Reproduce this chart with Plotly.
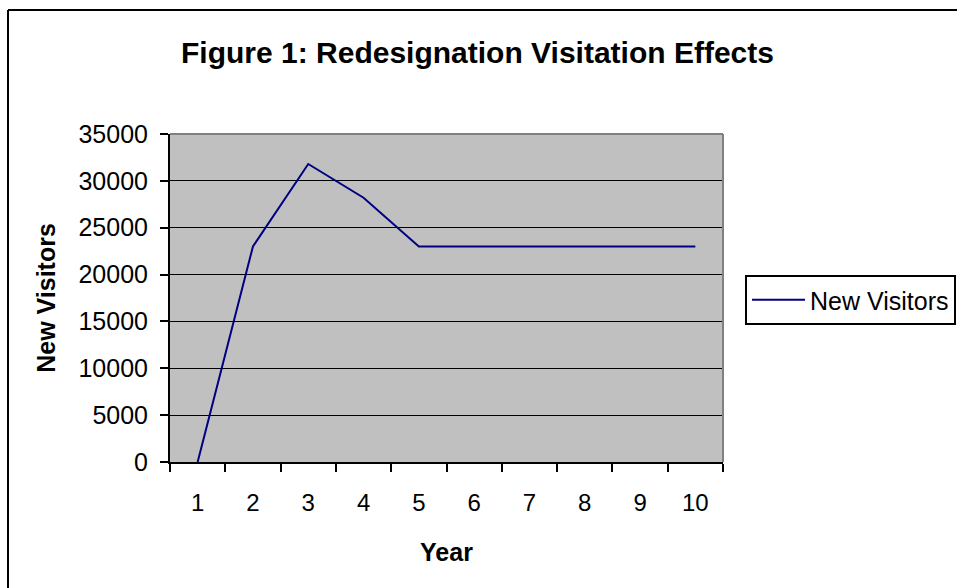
import plotly.graph_objects as go

years = ["1", "2", "3", "4", "5", "6", "7", "8", "9", "10"]
new_visitors = [0, 23000, 31800, 28200, 23000, 23000, 23000, 23000, 23000, 23000]
y_ticks = [0, 5000, 10000, 15000, 20000, 25000, 30000, 35000]

FONT = "Liberation Sans, Arial, sans-serif"
W, H = 957, 588
L, R, T, B = 170, 723, 134, 462

def px_x(p):
    return (p - L) / (R - L)

def px_y(p):
    return (B - p) / (B - T)

fig = go.Figure()
fig.add_trace(go.Scatter(
    x=years, y=new_visitors, mode="lines", name="New Visitors",
    line=dict(color="#000080", width=2),
))

fig.update_layout(
    width=W, height=H,
    margin=dict(l=L, r=W - R, t=T, b=H - B, pad=0, autoexpand=False),
    paper_bgcolor="white",
    plot_bgcolor="#C0C0C0",
    font=dict(family=FONT, color="black", size=24),
    title=dict(text="<b>Figure 1: Redesignation Visitation Effects</b>",
               x=px_x(477.5), xref="paper", xanchor="center",
               y=1 - 52 / H, yanchor="middle",
               font=dict(size=30, family=FONT, color="black")),
    showlegend=True,
    legend=dict(x=px_x(745), y=px_y(275), xanchor="left", yanchor="top",
                bordercolor="black", borderwidth=2, bgcolor="white",
                font=dict(size=25, family=FONT, color="black"),
                itemwidth=53),
    xaxis=dict(type="category", range=[-0.5, 9.5], tickson="boundaries",
               ticks="outside", ticklen=8, tickwidth=2, tickcolor="black",
               showline=True, linecolor="black", linewidth=2,
               showgrid=False, zeroline=False, ticklabelstandoff=18,
               tickfont=dict(size=24, family=FONT, color="black"),
               title=dict(text="<b>Year</b>", standoff=29,
                          font=dict(size=25, family=FONT, color="black"))),
    yaxis=dict(range=[0, 35000], tickvals=y_ticks, tickformat="d",
               ticks="outside", ticklen=8, tickwidth=2, tickcolor="black",
               showline=True, linecolor="black", linewidth=2,
               showgrid=True, gridcolor="black", gridwidth=1,
               zeroline=False, ticklabelstandoff=7,
               tickfont=dict(size=25, family=FONT, color="black"),
               title=dict(text="<b>New Visitors</b>", standoff=16,
                          font=dict(size=25, family=FONT, color="black"))),
)

# plot area border (top and right in grey)
fig.add_shape(type="line", xref="paper", yref="paper", x0=0, x1=1, y0=1, y1=1,
              line=dict(color="#808080", width=2), layer="above")
fig.add_shape(type="line", xref="paper", yref="paper", x0=1, x1=1, y0=0, y1=1,
              line=dict(color="#808080", width=2), layer="above")
# outer chart border: only the left and top edges fall inside the page
fig.add_shape(type="line", xref="paper", yref="paper",
              x0=px_x(8), x1=px_x(8), y0=px_y(640), y1=px_y(10),
              line=dict(color="black", width=2), layer="below")
fig.add_shape(type="line", xref="paper", yref="paper",
              x0=px_x(8), x1=px_x(1000), y0=px_y(10), y1=px_y(10),
              line=dict(color="black", width=2), layer="below")

# remove the default 8px page margin so the figure fills the window exactly
fig.write_html("out.html",
               config={"displayModeBar": False},
               post_script="document.body.style.margin='0';"
                           "document.body.style.overflow='hidden';")
